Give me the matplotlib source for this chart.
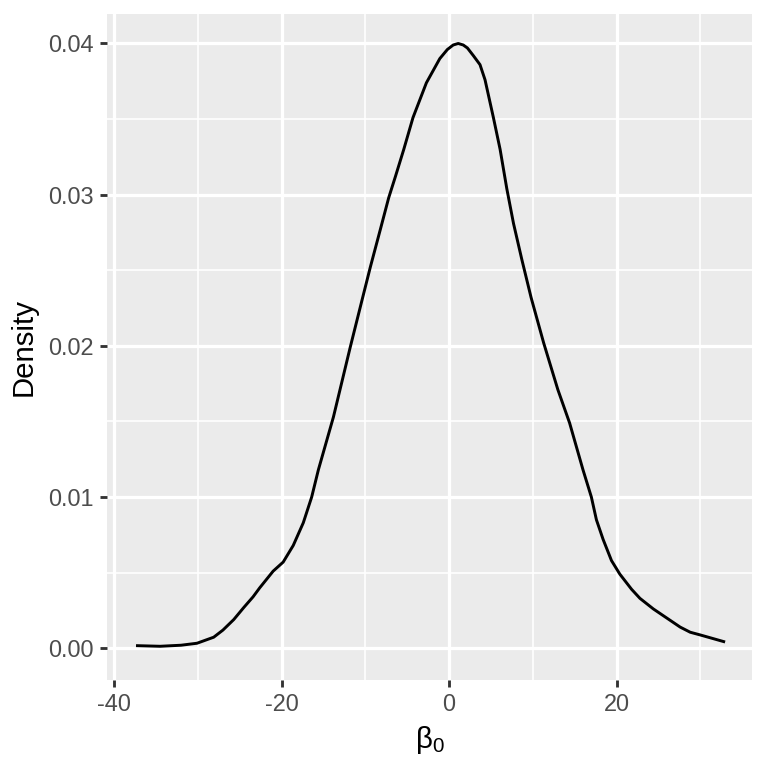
import matplotlib.pyplot as plt
from matplotlib.ticker import MultipleLocator

# density curve
beta0 = [-37.2, -34.5, -32.0, -30.1, -28.1, -27.0, -25.7, -24.5, -23.4, -22.6,
         -21.0, -19.8, -18.6, -17.4, -16.4, -15.6, -13.8, -11.8, -10.4, -9.4,
         -8.2, -7.2, -6.4, -5.4, -4.3, -2.7, -1.1, -0.2, 0.5, 1.1, 1.7, 2.2,
         2.9, 3.7, 4.3, 5.3, 6.1, 6.9, 7.7, 8.7, 9.8, 11.3,
         13.0, 14.4, 16.0, 17.0, 17.6, 18.4, 19.4, 20.4, 21.8, 22.8,
         24.4, 26.0, 27.6, 28.8, 30.0, 32.8]
density = [0.00017, 0.00013, 0.00020, 0.00033, 0.00073, 0.0012, 0.0019, 0.0027, 0.0034, 0.0040,
           0.0051, 0.0057, 0.0068, 0.0083, 0.0100, 0.0118, 0.0153, 0.0199, 0.0230, 0.0252,
           0.0277, 0.0298, 0.0312, 0.0330, 0.0351, 0.0374, 0.0390, 0.0396, 0.0399, 0.0400, 0.0399, 0.0397,
           0.0392, 0.0386, 0.0376, 0.0351, 0.0330, 0.0304, 0.0281, 0.0257, 0.0232, 0.0202,
           0.0171, 0.0149, 0.0118, 0.0100, 0.0085, 0.0072, 0.0058, 0.0049, 0.0039, 0.0033,
           0.0026, 0.0020, 0.0014, 0.00106, 0.00088, 0.00044]

x_ticks = [-40, -20, 0, 20]
y_ticks = [0.00, 0.01, 0.02, 0.03, 0.04]

plt.rcParams['font.family'] = ['Liberation Sans', 'DejaVu Sans']
plt.rcParams['mathtext.fontset'] = 'custom'
plt.rcParams['mathtext.rm'] = 'Liberation Sans'
plt.rcParams['mathtext.it'] = 'Liberation Sans'
plt.rcParams['axes.unicode_minus'] = False

fig = plt.figure(figsize=(4, 4), dpi=192)
ax = fig.add_axes([107 / 768, 1 - 680 / 768, 645 / 768, 666 / 768])
ax.set_facecolor('#EBEBEB')
for s in ax.spines.values():
    s.set_visible(False)

ax.plot(beta0, density, color='black', lw=1.1, solid_joinstyle='round', zorder=3)

ax.set_xlim(-40.84, 36.18)
ax.set_ylim(-0.0021, 0.04195)
ax.set_xticks(x_ticks)
ax.set_yticks(y_ticks)
ax.set_yticklabels([f'{v:.2f}' for v in y_ticks])
ax.xaxis.set_minor_locator(MultipleLocator(10))
ax.yaxis.set_minor_locator(MultipleLocator(0.005))

ax.grid(which='major', color='white', lw=1.2)
ax.grid(which='minor', color='white', lw=0.6)
ax.set_axisbelow(True)
ax.tick_params(which='major', length=2.75, width=1.07, color='#333333',
               labelcolor='#4D4D4D', labelsize=8.8, pad=2.2)
ax.tick_params(which='minor', length=0)

ax.set_xlabel(r'$\mathrm{\beta_0}$', fontsize=11, color='black', labelpad=3)
ax.set_ylabel('Density', fontsize=11, color='black', labelpad=4)

fig.savefig('out.png', dpi=192, facecolor='white')
